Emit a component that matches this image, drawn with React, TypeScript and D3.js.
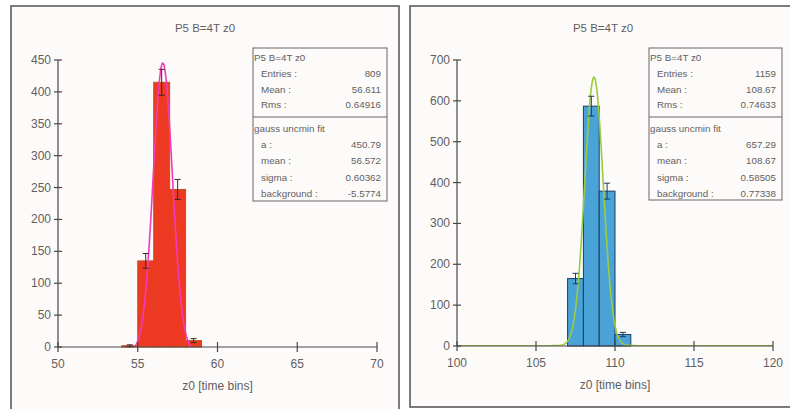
import React from "react";
import * as d3 from "d3";

// Histogram contents: lower bin edge (bin width 1) and entries per bin
const leftBinLow = [54, 55, 56, 57, 58];
const leftCounts = [2, 135, 415, 247, 10];
const rightBinLow = [107, 108, 109, 110];
const rightCounts = [165, 587, 379, 28];

// Axis ticks
const leftXTicks = [50, 55, 60, 65, 70];
const leftYTicks = [0, 50, 100, 150, 200, 250, 300, 350, 400, 450];
const rightXTicks = [100, 105, 110, 115, 120];
const rightYTicks = [0, 100, 200, 300, 400, 500, 600, 700];

// Gaussian fit parameters: [a, mean, sigma, background]
const leftFit = [450.79, 56.572, 0.60362, -5.5774];
const rightFit = [657.29, 108.67, 0.58505, 0.77338];

// Statistics box rows
const statsLabels = ["Entries :", "Mean :", "Rms :"];
const leftStats = ["809", "56.611", "0.64916"];
const rightStats = ["1159", "108.67", "0.74633"];
const fitLabels = ["a :", "mean :", "sigma :", "background :"];
const leftFitText = ["450.79", "56.572", "0.60362", "-5.5774"];
const rightFitText = ["657.29", "108.67", "0.58505", "0.77338"];

const title = "P5 B=4T z0";
const xTitle = "z0 [time bins]";

type PanelProps = {
  id: string;
  frame: [number, number, number, number];
  plot: { x0: number; x1: number; y0: number; y1: number };
  xDomain: [number, number];
  yDomain: [number, number];
  xTicks: number[];
  yTicks: number[];
  binLow: number[];
  counts: number[];
  fit: number[];
  fitColor: string;
  fillColor: string;
  edgeColor: string;
  errColor: string;
  box: { x0: number; x1: number; y0: number; y1: number };
  stats: string[];
  fitText: string[];
};

const textColor = "#625e5e";
const axisColor = "#4a4648";

function Panel(p: PanelProps) {
  const x = d3.scaleLinear().domain(p.xDomain).range([p.plot.x0, p.plot.x1]);
  const y = d3.scaleLinear().domain(p.yDomain).range([p.plot.y0, p.plot.y1]);
  const [a, mu, sg, bg] = p.fit;
  const f = (v: number) => a * Math.exp(-((v - mu) ** 2) / (2 * sg * sg)) + bg;
  const xs = d3.range(p.xDomain[0], p.xDomain[1] + 1e-9, 0.05);
  const line = d3
    .line<number>()
    .x((v) => x(v))
    .y((v) => y(f(v)))
    .curve(d3.curveLinear);
  const [fx, fy, fw, fh] = p.frame;
  const cx = (p.plot.x0 + p.plot.x1) / 2;
  const bx = p.box;
  const rowH = 15.8;
  return (
    <g fontFamily="'Liberation Sans', Arial, sans-serif">
      <defs>
        <clipPath id={`clip-${p.id}`}>
          <rect x={p.plot.x0} y={p.plot.y1 - 20} width={p.plot.x1 - p.plot.x0} height={p.plot.y0 - p.plot.y1 + 20} />
        </clipPath>
      </defs>
      <rect x={fx} y={fy} width={fw} height={fh} fill="#fdfbfa" stroke="#5e5a5c" strokeWidth={1.6} />
      <text x={fx + fw / 2} y={32} fontSize={11.5} fill={textColor} textAnchor="middle">
        {title}
      </text>

      {/* bars */}
      {p.binLow.map((lo, i) => (
        <rect
          key={`b${i}`}
          x={x(lo)}
          y={y(p.counts[i])}
          width={x(lo + 1) - x(lo)}
          height={y(0) - y(p.counts[i])}
          fill={p.fillColor}
          stroke={p.edgeColor}
          strokeWidth={1}
        />
      ))}

      {/* fit curve */}
      <path d={line(xs) || ""} fill="none" stroke={p.fitColor} strokeWidth={1.6} clipPath={`url(#clip-${p.id})`} />

      {/* error bars */}
      {p.binLow.map((lo, i) => {
        const c = p.counts[i];
        const e = Math.sqrt(c);
        const xm = x(lo + 0.5);
        return (
          <g key={`e${i}`} stroke={p.errColor} strokeWidth={1}>
            <line x1={xm} x2={xm} y1={y(c - e)} y2={y(c + e)} />
            <line x1={xm - 3} x2={xm + 3} y1={y(c + e)} y2={y(c + e)} />
            <line x1={xm - 3} x2={xm + 3} y1={y(c - e)} y2={y(c - e)} />
          </g>
        );
      })}

      {/* axes */}
      <line x1={p.plot.x0} x2={p.plot.x1} y1={p.plot.y0} y2={p.plot.y0} stroke={axisColor} strokeWidth={1.2} />
      <line x1={p.plot.x0} x2={p.plot.x0} y1={p.plot.y0} y2={p.plot.y1} stroke={axisColor} strokeWidth={1.2} />
      {p.xTicks.map((t) => (
        <g key={`xt${t}`}>
          <line x1={x(t)} x2={x(t)} y1={y(0) - 5} y2={y(0) + 5} stroke={axisColor} strokeWidth={1.2} />
          <text x={x(t)} y={y(0) + 21} fontSize={12} fill={textColor} textAnchor="middle">
            {t}
          </text>
        </g>
      ))}
      {p.yTicks.map((t) => (
        <g key={`yt${t}`}>
          <line x1={p.plot.x0 - 4} x2={p.plot.x0 + 4} y1={y(t)} y2={y(t)} stroke={axisColor} strokeWidth={1.2} />
          <text x={p.plot.x0 - 7} y={y(t) + 4} fontSize={12} fill={textColor} textAnchor="end">
            {t}
          </text>
        </g>
      ))}
      <text x={cx} y={y(0) + 43} fontSize={12} fill={textColor} textAnchor="middle">
        {xTitle}
      </text>

      {/* statistics box */}
      <rect x={bx.x0} y={bx.y0} width={bx.x1 - bx.x0} height={bx.y1 - bx.y0} fill="none" stroke="#6a6466" strokeWidth={1} />
      <line x1={bx.x0} x2={bx.x1} y1={bx.y0 + 69} y2={bx.y0 + 69} stroke="#6a6466" strokeWidth={1} />
      <g fontSize={9.8} fill={textColor}>
        <text x={bx.x0 + 1} y={bx.y0 + 13}>{title}</text>
        {statsLabels.map((s, i) => (
          <g key={`s${i}`}>
            <text x={bx.x0 + 8} y={bx.y0 + 13 + rowH * (i + 1)}>{s}</text>
            <text x={bx.x1 - 6} y={bx.y0 + 13 + rowH * (i + 1)} textAnchor="end">{p.stats[i]}</text>
          </g>
        ))}
        <text x={bx.x0 + 1} y={bx.y0 + 84}>gauss uncmin fit</text>
        {fitLabels.map((s, i) => (
          <g key={`f${i}`}>
            <text x={bx.x0 + 8} y={bx.y0 + 84 + 16.2 * (i + 1)}>{s}</text>
            <text x={bx.x1 - 6} y={bx.y0 + 84 + 16.2 * (i + 1)} textAnchor="end">{p.fitText[i]}</text>
          </g>
        ))}
      </g>
    </g>
  );
}

export default function App() {
  return (
    <svg
      width={790}
      height={409}
      style={{ position: "absolute", left: 0, top: 0, background: "#ffffff" }}
    >
      <Panel
        id="left"
        frame={[11, 6, 388, 410]}
        plot={{ x0: 58, x1: 377, y0: 347, y1: 60 }}
        xDomain={[50, 70]}
        yDomain={[0, 450]}
        xTicks={leftXTicks}
        yTicks={leftYTicks}
        binLow={leftBinLow}
        counts={leftCounts}
        fit={leftFit}
        fitColor="#f23bb8"
        fillColor="#ee3a22"
        edgeColor="#b8561e"
        errColor="#3a2a2a"
        box={{ x0: 253, x1: 387, y0: 48, y1: 201 }}
        stats={leftStats}
        fitText={leftFitText}
      />
      <Panel
        id="right"
        frame={[410, 6, 386, 401]}
        plot={{ x0: 457, x1: 773, y0: 346, y1: 60 }}
        xDomain={[100, 120]}
        yDomain={[0, 700]}
        xTicks={rightXTicks}
        yTicks={rightYTicks}
        binLow={rightBinLow}
        counts={rightCounts}
        fit={rightFit}
        fitColor="#9ccc3c"
        fillColor="#4aa3d6"
        edgeColor="#1c3a64"
        errColor="#1c3a64"
        box={{ x0: 649, x1: 782, y0: 48, y1: 200 }}
        stats={rightStats}
        fitText={rightFitText}
      />
    </svg>
  );
}
